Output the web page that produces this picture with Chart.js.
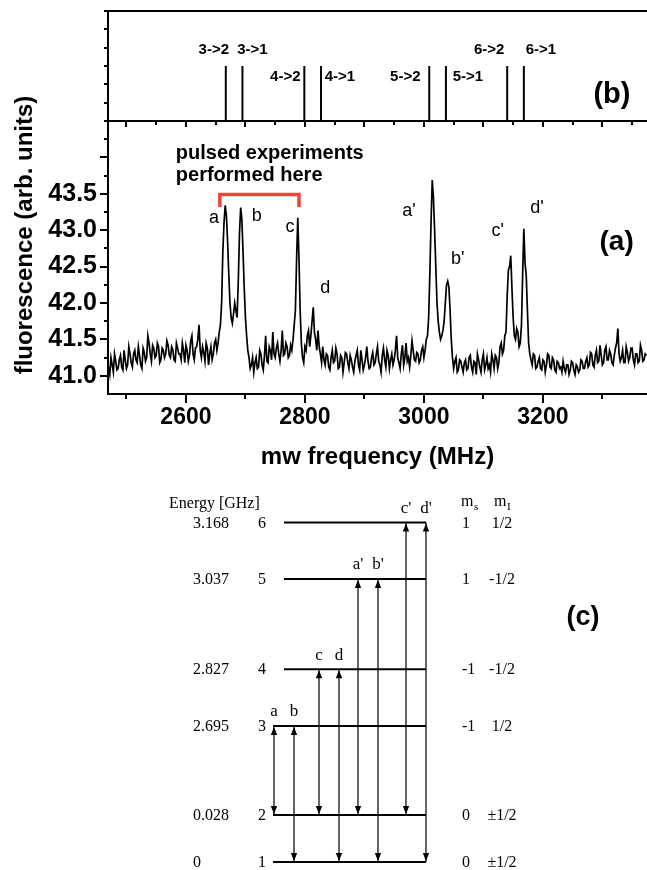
<!DOCTYPE html>
<html lang="en">
<head>
<meta charset="utf-8">
<title>mw frequency scan</title>
<script src="https://cdn.jsdelivr.net/npm/chart.js@4.4.1/dist/chart.umd.min.js"></script>
<style>
    html, body { margin: 0; padding: 0; background: #ffffff; }
    body { position: relative; width: 647px; height: 870px; overflow: hidden; }
    canvas { position: absolute; left: 0; }
    #SpecChart { top: 0; }
    #TransChart { top: 0; }
    #LevelChart { top: 480px; }
</style>
</head>
<body>
<canvas id="SpecChart" width="647" height="480"></canvas>
<canvas id="TransChart" width="647" height="132"></canvas>
<canvas id="LevelChart" width="647" height="390"></canvas>
<script>

// ---------------- Data ----------------
const freqStart = 2470;   // MHz, first sample of the scan
const freqStep = 2;       // MHz between samples

// one row = 40 MHz
const fluorescence = [
    41.12, 41.02, 41.25, 41.15, 41.05, 41.30, 41.20, 41.08, 41.10, 41.22, 41.28, 41.12, 41.08, 41.35, 41.22, 41.10, 41.15, 41.40, 41.30, 41.18,
    41.12, 41.30, 41.35, 41.22, 41.18, 41.40, 41.28, 41.15, 41.10, 41.38, 41.32, 41.20, 41.25, 41.55, 41.45, 41.30, 41.20, 41.42, 41.38, 41.25,
    41.28, 41.45, 41.40, 41.18, 41.22, 41.38, 41.35, 41.25, 41.30, 41.48, 41.42, 41.28, 41.25, 41.40, 41.36, 41.22, 41.20, 41.45, 41.38, 41.30,
    41.30, 41.22, 41.45, 41.35, 41.18, 41.42, 41.35, 41.20, 41.28, 41.48, 41.55, 41.30, 41.22, 41.38, 41.40, 41.50, 41.70, 41.35, 41.25, 41.40,
    41.32, 41.20, 41.45, 41.38, 41.15, 41.30, 41.40, 41.22, 41.30, 41.45, 41.50, 41.35, 41.45, 41.60, 41.70, 42.00, 42.70, 43.10, 43.34, 43.20,
    42.85, 42.40, 42.00, 41.80, 41.72, 41.85, 42.00, 41.90, 41.80, 42.30, 42.95, 43.31, 43.15, 42.70, 42.20, 41.80, 41.55, 41.35, 41.25, 41.10,
    41.15, 41.25, 41.05, 41.18, 41.25, 41.10, 41.12, 41.35, 41.30, 41.15, 41.08, 41.28, 41.55, 41.20, 41.18, 41.40, 41.35, 41.22, 41.60, 41.30,
    41.25, 41.38, 41.45, 41.30, 41.20, 41.35, 41.62, 41.28, 41.30, 41.45, 41.40, 41.25, 41.28, 41.42, 41.35, 41.50, 41.70, 41.90, 42.60, 43.17,
    42.60, 41.90, 41.45, 41.25, 41.18, 41.40, 41.35, 41.55, 41.62, 41.40, 41.55, 41.75, 41.94, 41.60, 41.50, 41.35, 41.62, 41.40, 41.30, 41.18,
    41.40, 41.22, 41.15, 41.30, 41.28, 41.12, 41.08, 41.25, 41.35, 41.18, 41.20, 41.38, 41.30, 41.10, 41.12, 41.28, 41.25, 41.05, 41.18, 41.32,
    41.30, 41.18, 41.10, 41.28, 41.22, 41.12, 41.05, 41.20, 41.28, 41.35, 41.15, 41.08, 41.35, 41.22, 41.08, 41.15, 41.25, 41.40, 41.20, 41.10,
    41.12, 41.25, 41.32, 41.15, 41.18, 41.30, 41.40, 41.20, 41.15, 41.05, 41.28, 41.38, 41.22, 41.12, 41.35, 41.28, 41.10, 41.22, 41.30, 41.15,
    41.22, 41.35, 41.55, 41.25, 41.18, 41.10, 41.30, 41.42, 41.15, 41.25, 41.45, 41.20, 41.25, 41.12, 41.28, 41.48, 41.35, 41.22, 41.20, 41.32,
    41.30, 41.18, 41.22, 41.35, 41.40, 41.25, 41.35, 41.50, 41.55, 41.80, 42.40, 43.10, 43.69, 43.45, 43.00, 42.50, 42.00, 41.75, 41.60, 41.50,
    41.55, 41.62, 41.75, 42.00, 42.25, 42.30, 42.22, 41.90, 41.50, 41.25, 41.10, 41.20, 41.25, 41.05, 41.08, 41.22, 41.20, 41.12, 41.05, 41.18,
    41.22, 41.08, 41.10, 41.25, 41.28, 41.12, 41.05, 41.20, 41.18, 41.02, 41.30, 41.22, 41.12, 41.05, 41.22, 41.30, 41.08, 41.15, 41.25, 41.10,
    41.15, 41.05, 41.30, 41.22, 41.10, 41.28, 41.25, 41.10, 41.18, 41.40, 41.45, 41.30, 41.35, 41.55, 41.60, 42.10, 42.45, 42.50, 42.65, 42.20,
    41.80, 41.55, 41.50, 41.65, 41.60, 41.40, 41.45, 41.70, 42.40, 43.02, 42.55, 42.38, 41.90, 41.45, 41.30, 41.22, 41.15, 41.30, 41.28, 41.10,
    41.12, 41.20, 41.25, 41.10, 41.08, 41.22, 41.20, 41.05, 41.15, 41.30, 41.28, 41.12, 41.10, 41.25, 41.22, 41.08, 41.05, 41.20, 41.18, 41.10,
    41.12, 41.05, 41.20, 41.10, 41.05, 41.15, 41.15, 41.02, 41.08, 41.20, 41.18, 41.08, 41.02, 41.15, 41.12, 41.05, 41.08, 41.22, 41.20, 41.10,
    41.10, 41.20, 41.25, 41.12, 41.15, 41.32, 41.30, 41.15, 41.12, 41.28, 41.35, 41.18, 41.20, 41.42, 41.28, 41.15, 41.18, 41.35, 41.40, 41.22,
    41.22, 41.35, 41.30, 41.18, 41.15, 41.28, 41.38, 41.45, 41.65, 41.30, 41.20, 41.25, 41.35, 41.18, 41.18, 41.40, 41.32, 41.20, 41.25, 41.38,
    41.38, 41.22, 41.15, 41.30, 41.30, 41.18, 41.20, 41.42, 41.35, 41.20, 41.22, 41.30, 41.28
];

const freqTickLabels = [2600, 2800, 3000, 3200];
const fluorTickLabels = [41.0, 41.5, 42.0, 42.5, 43.0, 43.5];

const levelNumber = [1, 2, 3, 4, 5, 6];
const levelEnergy = [0, 0.028, 2.695, 2.827, 3.037, 3.168];   // GHz
const levelEnergyText = ["0", "0.028", "2.695", "2.827", "3.037", "3.168"];
const levelMs = ["0", "0", "-1", "-1", "1", "1"];
const levelMi = ["\u00b11/2", "\u00b11/2", "1/2", "-1/2", "-1/2", "1/2"];

const transFrom = [3, 3, 4, 4, 5, 5, 6, 6];
const transTo = [2, 1, 2, 1, 2, 1, 2, 1];
const transLetter = ["a", "b", "c", "d", "a'", "b'", "c'", "d'"];
const transStrength = [3, 3, 3, 3, 3, 3, 3, 3];

const pulsedRange = [2657, 2790];   // MHz, red bracket


// ---------------- Layout / style ----------------
const FREQ_MIN = 2469, FREQ_MAX = 3375;
const SANS = '"Liberation Sans", Arial, sans-serif';
const SERIF = '"Liberation Serif", "Times New Roman", serif';

// panel (b) label placement: px offset from line, height in panel units
const transLabelDx = [-12, 10, -19, 19, -24, 22, -18, 17];
const transLabelRow = [3.87, 3.87, 2.4, 2.4, 2.4, 2.4, 3.87, 3.87];

// panel (a) peak letters, [MHz, fluorescence]
const peakLabelAt = [
    [2647, 43.17], [2719, 43.19], [2775, 43.05], [2834, 42.20],
    [2975, 43.27], [3057, 42.60], [3124, 42.99], [3190, 43.31]
];

const transFreq = transFrom.map((f, i) =>
    Math.round((levelEnergy[f - 1] - levelEnergy[transTo[i] - 1]) * 1000));

Chart.defaults.color = "#000";
Chart.defaults.animation = false;


// ---------------- Helpers ----------------
function strokeLine(ctx, x1, y1, x2, y2) {
    ctx.beginPath();
    ctx.moveTo(x1, y1);
    ctx.lineTo(x2, y2);
    ctx.stroke();
}

function drawText(ctx, str, x, y, font, align = "center", baseline = "middle") {
    ctx.font = font;
    ctx.textAlign = align;
    ctx.textBaseline = baseline;
    ctx.fillText(str, x, y);
}

// ticks on round values, not counted from the axis minimum
function roundTicks(step) {
    return scale => {
        const ticks = [];
        const first = Math.ceil(scale.min / step - 1e-9) * step;
        for (let v = first; v <= scale.max + 1e-9; v += step) {
            ticks.push({ value: Math.round(v * 1000) / 1000 });
        }
        scale.ticks = ticks;
    };
}


// ---------------- Panel (a): spectrum ----------------
const spectrumPoints = fluorescence.map((v, i) => ({ x: freqStart + i * freqStep, y: v }));

const specDecor = {
    id: "specDecor",
    afterDraw(chart) {
        const { ctx, chartArea: area, scales: { x, y } } = chart;
        ctx.save();
        ctx.strokeStyle = "#000";
        ctx.fillStyle = "#000";
        ctx.lineWidth = 2;

        // outward tick marks, long on labelled steps
        x.ticks.forEach(t => {
            if (t.value <= x.min || t.value >= x.max) return;
            const px = Math.round(x.getPixelForValue(t.value));
            const len = t.value % 200 === 0 ? 9 : 5;
            strokeLine(ctx, px, area.bottom, px, area.bottom + len);
        });
        y.ticks.forEach(t => {
            if (t.value <= y.min || t.value >= y.max) return;
            const py = Math.round(y.getPixelForValue(t.value));
            const len = Number.isInteger(Math.round(t.value * 1000) / 500) ? 8 : 4;
            strokeLine(ctx, area.left - len, py, area.left, py);
        });

        // peak letters
        peakLabelAt.forEach((p, i) => {
            drawText(ctx, transLetter[i], x.getPixelForValue(p[0]), y.getPixelForValue(p[1]), `18px ${SANS}`);
        });

        // pulsed experiments note
        const noteX = x.getPixelForValue(2583);
        drawText(ctx, "pulsed experiments", noteX, y.getPixelForValue(44.06), `bold 20px ${SANS}`, "left");
        drawText(ctx, "performed here", noteX, y.getPixelForValue(43.75), `bold 20px ${SANS}`, "left");

        drawText(ctx, "(a)", x.getPixelForValue(3324), y.getPixelForValue(42.83), `bold 28px ${SANS}`);

        // axis titles
        drawText(ctx, "mw frequency (MHz)", (area.left + area.right) / 2, 457, `bold 24px ${SANS}`);
        ctx.translate(25, 235);
        ctx.rotate(-Math.PI / 2);
        drawText(ctx, "fluorescence (arb. units)", 0, 0, `bold 24px ${SANS}`);
        ctx.restore();
    }
};

const specChart = new Chart(document.getElementById("SpecChart"), {
    type: "scatter",
    data: {
        datasets: [
            {
                label: "fluorescence",
                data: spectrumPoints,
                showLine: true,
                borderColor: "#000",
                borderWidth: 1.7,
                pointRadius: 0,
                tension: 0
            },
            {
                label: "pulsed range",
                data: [
                    { x: pulsedRange[0], y: 43.32 },
                    { x: pulsedRange[0], y: 43.49 },
                    { x: pulsedRange[1], y: 43.49 },
                    { x: pulsedRange[1], y: 43.32 }
                ],
                showLine: true,
                borderColor: "#f2433a",
                borderWidth: 3.5,
                pointRadius: 0
            }
        ]
    },
    options: {
        responsive: false,
        devicePixelRatio: 1,
        layout: { padding: { top: 121, left: 0, right: 0, bottom: 0 } },
        plugins: { legend: { display: false }, tooltip: { enabled: false } },
        scales: {
            x: {
                type: "linear",
                position: "bottom",
                min: FREQ_MIN,
                max: FREQ_MAX,
                afterBuildTicks: roundTicks(100),
                afterFit: s => { s.height = 86; },
                grid: { drawOnChartArea: false, drawTicks: true, tickLength: 9, tickColor: "rgba(0,0,0,0)" },
                border: { display: true, color: "#000", width: 2 },
                ticks: {
                    autoSkip: false,
                    maxRotation: 0,
                    padding: 1,
                    color: "#000",
                    font: { family: SANS, size: 23, weight: "bold" },
                    callback: v => freqTickLabels.includes(v) ? String(v) : ""
                }
            },
            y: {
                type: "linear",
                min: 40.75,
                max: 44.5,
                afterBuildTicks: roundTicks(0.25),
                afterFit: s => { s.width = 108; },
                grid: { drawOnChartArea: false, drawTicks: true, tickLength: 8, tickColor: "rgba(0,0,0,0)" },
                border: { display: true, color: "#000", width: 2 },
                ticks: {
                    autoSkip: false,
                    padding: 3,
                    color: "#000",
                    font: { family: SANS, size: 25, weight: "bold" },
                    callback: v => {
                        const hit = fluorTickLabels.find(t => Math.abs(t - v) < 1e-6);
                        return hit !== undefined ? hit.toFixed(1) : "";
                    }
                }
            }
        }
    },
    plugins: [specDecor]
});


// ---------------- Panel (b): transitions ----------------
const transDecor = {
    id: "transDecor",
    afterDraw(chart) {
        const { ctx, chartArea: area, scales: { x, y } } = chart;
        ctx.save();
        ctx.strokeStyle = "#000";
        ctx.fillStyle = "#000";
        ctx.lineWidth = 2;

        // frame (no right side in the picture)
        strokeLine(ctx, area.left, area.top, area.right, area.top);
        strokeLine(ctx, area.left, area.bottom, area.right, area.bottom);
        strokeLine(ctx, area.left, area.top - 1, area.left, area.bottom + 1);

        for (let v = 0; v <= 6; v++) {
            const py = Math.round(y.getPixelForValue(v));
            strokeLine(ctx, area.left - 4, py, area.left, py);
        }
        for (let f = Math.ceil(FREQ_MIN / 50) * 50; f < FREQ_MAX; f += 50) {
            const px = Math.round(x.getPixelForValue(f));
            strokeLine(ctx, px, area.bottom, px, area.bottom + (f % 100 === 0 ? 6 : 4));
        }

        transFreq.forEach((f, i) => {
            const label = `${transFrom[i]}->${transTo[i]}`;
            drawText(ctx, label, x.getPixelForValue(f) + transLabelDx[i], y.getPixelForValue(transLabelRow[i]),
                `bold 15px ${SANS}`);
        });

        drawText(ctx, "(b)", x.getPixelForValue(3316), y.getPixelForValue(1.42), `bold 29px ${SANS}`);
        ctx.restore();
    }
};

const transChart = new Chart(document.getElementById("TransChart"), {
    type: "scatter",
    data: {
        datasets: transFreq.map((f, i) => ({
            label: `${transFrom[i]}->${transTo[i]}`,
            data: [{ x: f, y: 0 }, { x: f, y: transStrength[i] }],
            showLine: true,
            borderColor: "#000",
            borderWidth: 2,
            pointRadius: 0
        }))
    },
    options: {
        responsive: false,
        devicePixelRatio: 1,
        layout: { padding: { top: 11, left: 108, right: 0, bottom: 11 } },
        plugins: { legend: { display: false }, tooltip: { enabled: false } },
        scales: {
            x: { type: "linear", min: FREQ_MIN, max: FREQ_MAX, display: false },
            y: { type: "linear", min: 0, max: 6, display: false }
        }
    },
    plugins: [transDecor]
});


// ---------------- Panel (c): level scheme ----------------
// broken energy axis: lower pair and upper four levels are far apart
const levelY = e => e < 1 ? e * (47 / 0.028) : 136 + (e - 2.695) * 430;
const arrowPairOffset = [0, 45, 84, 132];
const arrowX = k => 274 + arrowPairOffset[Math.floor(k / 2)] + (k % 2) * 20;
const levelLeft = i => (i < 3 ? 273 : 284);
const levelRight = 426;

function arrowHead(ctx, x, tipY, dir) {
    ctx.beginPath();
    ctx.moveTo(x, tipY);
    ctx.lineTo(x - 3.2, tipY + dir * 8);
    ctx.lineTo(x + 3.2, tipY + dir * 8);
    ctx.closePath();
    ctx.fill();
}

const levelDecor = {
    id: "levelDecor",
    afterDatasetsDraw(chart) {
        const { ctx, scales: { x, y } } = chart;
        const font = `16px ${SERIF}`;
        ctx.save();
        ctx.fillStyle = "#000";

        transFrom.forEach((f, k) => {
            const px = x.getPixelForValue(arrowX(k));
            const top = y.getPixelForValue(levelY(levelEnergy[f - 1]));
            const bot = y.getPixelForValue(levelY(levelEnergy[transTo[k] - 1]));
            arrowHead(ctx, px, top + 1, 1);
            arrowHead(ctx, px, bot - 1, -1);
            drawText(ctx, transLetter[k], px, top - 14, `17px ${SERIF}`);
        });

        levelEnergy.forEach((e, i) => {
            const py = y.getPixelForValue(levelY(e)) + 1;
            drawText(ctx, levelEnergyText[i], x.getPixelForValue(193), py, font, "left");
            drawText(ctx, String(levelNumber[i]), x.getPixelForValue(262), py, font);
            drawText(ctx, levelMs[i], x.getPixelForValue(462), py, font, "left");
            drawText(ctx, levelMi[i], x.getPixelForValue(502), py, font);
        });

        drawText(ctx, "Energy [GHz]", 169, 24, font, "left");
        drawText(ctx, "m", 461, 22, font, "left");
        drawText(ctx, "s", 461 + 13, 27, `11px ${SERIF}`, "left");
        drawText(ctx, "m", 494, 22, font, "left");
        drawText(ctx, "I", 494 + 13, 27, `11px ${SERIF}`, "left");

        drawText(ctx, "(c)", 583, 138, `bold 27px ${SANS}`);
        ctx.restore();
    }
};

const levelChart = new Chart(document.getElementById("LevelChart"), {
    type: "scatter",
    data: {
        datasets: [
            ...levelEnergy.map((e, i) => ({
                label: `level ${levelNumber[i]}`,
                data: [{ x: levelLeft(i), y: levelY(e) }, { x: levelRight, y: levelY(e) }],
                showLine: true,
                borderColor: "#000",
                borderWidth: 2,
                pointRadius: 0
            })),
            ...transFrom.map((f, k) => ({
                label: transLetter[k],
                data: [
                    { x: arrowX(k), y: levelY(levelEnergy[f - 1]) },
                    { x: arrowX(k), y: levelY(levelEnergy[transTo[k] - 1]) }
                ],
                showLine: true,
                borderColor: "#000",
                borderWidth: 1.2,
                pointRadius: 0
            }))
        ]
    },
    options: {
        responsive: false,
        devicePixelRatio: 1,
        layout: { padding: 0 },
        plugins: { legend: { display: false }, tooltip: { enabled: false } },
        scales: {
            x: { type: "linear", min: 0, max: 647, display: false },
            y: { type: "linear", min: -8, max: 382, display: false }
        }
    },
    plugins: [levelDecor]
});

</script>
</body>
</html>
